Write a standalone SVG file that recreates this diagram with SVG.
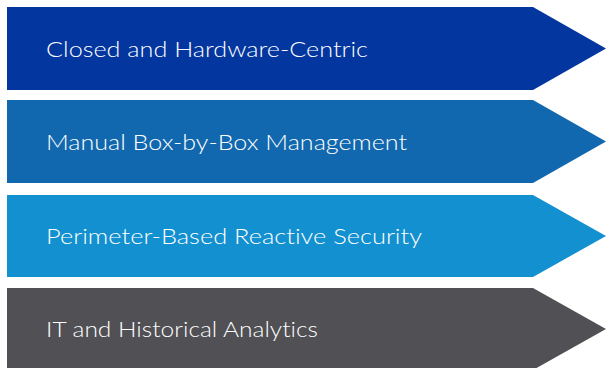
<svg xmlns="http://www.w3.org/2000/svg" width="606" height="368" viewBox="0 0 606 368">
<style>
.lbl{font-family:"Lato","Liberation Sans",sans-serif;font-weight:300;font-size:21px;fill:#ffffff;font-variant-ligatures:none;font-feature-settings:"liga" 0,"dlig" 0}
</style>
<rect width="606" height="368" fill="#ffffff"/>
<g id="node1"><polygon points="7,7 533,7 606,48.5 533,90 7,90" fill="#03369e"/><text class="lbl" x="46" y="57" textLength="322" lengthAdjust="spacingAndGlyphs">Closed and Hardware-Centric</text></g>
<g id="node2"><polygon points="7,100 533,100 606,141.5 533,183 7,183" fill="#1168ae"/><text class="lbl" x="46" y="150" textLength="361" lengthAdjust="spacingAndGlyphs">Manual Box-by-Box Management</text></g>
<g id="node3"><polygon points="7,195 533,195 606,236 533,277 7,277" fill="#1390d0"/><text class="lbl" x="46" y="244" textLength="376" lengthAdjust="spacingAndGlyphs">Perimeter-Based Reactive Security</text></g>
<g id="node4"><polygon points="7,288 533,288 606,329 533,370 7,370" fill="#505055"/><text class="lbl" x="46" y="337" textLength="272" lengthAdjust="spacingAndGlyphs">IT and Historical Analytics</text></g>
<g id="connectors"/>
</svg>
